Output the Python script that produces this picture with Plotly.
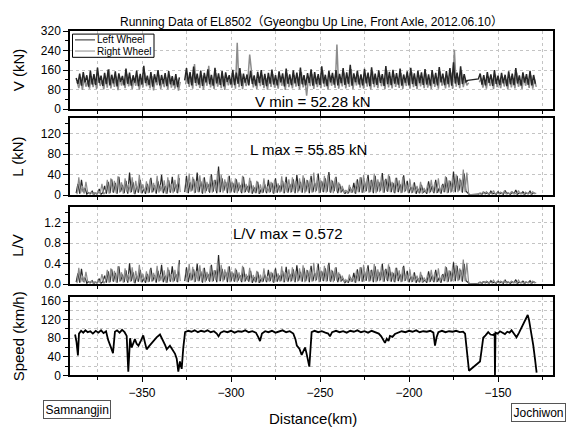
import plotly.graph_objects as go

W, H = 569, 434
FONT = "Liberation Sans, Arial, Noto Sans CJK KR, sans-serif"

# ---------------- data ----------------
# wheel-force samples every 1 km; left wheel at whole km, right wheel half a km later
DIST = list(range(-387, -128))
DIST_RIGHT = [d + 0.5 for d in DIST]
V_UNSAMPLED = (-166, -162)   # no V samples here (line joins across)

V_LEFT = [
    128, 104, 146, 96, 152, 110, 139, 92, 158, 101,
    144, 99, 171, 108, 137, 95, 149, 103, 162, 97,
    141, 106, 155, 93, 147, 112, 136, 98, 166, 104,
    150, 96, 139, 109, 158, 94, 145, 101, 178, 107,
    137, 99, 152, 92, 143, 111, 160, 97, 140, 105,
    148, 94, 156, 102, 135, 98, 144, 90, 130, None,
    None, 118, 168, 104, 152, 97, 175, 108, 146, 100,
    158, 95, 149, 110, 163, 102, 141, 96, 170, 106,
    147, 99, 156, 93, 151, 112, 139, 101, 161, 98,
    150, 104, 168, 95, 146, 109, 142, 97, 157, 103,
    138, 96, 153, 108, 160, 99, 145, 94, 149, 105,
    162, 101, 140, 97, 155, 110, 147, 93, 166, 104,
    143, 98, 159, 106, 150, 95, 171, 102, 139, 97,
    148, 108, 163, 96, 152, 103, 144, 99, 176, 105,
    141, 94, 157, 110, 149, 100, 160, 97, 145, 107,
    168, 99, 151, 104, 182, 96, 147, 111, 158, 101,
    143, 97, 165, 106, 150, 94, 172, 103, 146, 99,
    159, 108, 144, 95, 177, 102, 153, 98, 161, 105,
    148, 100, 166, 96, 142, 109, 155, 97, 170, 103,
    147, 95, 158, 107, 151, 99, 164, 101, 143, 96,
    160, 104, 149, 97, 173, 110, 146, 98, 156, 102,
    168, 96, 192, 105, 150, 99, 176, 103, 144, 112,
    118, None, None, None, None, None, 124, 146, 101, 139,
    97, 152, 108, 143, 95, 160, 103, 137, 99, 149,
    106, 141, 94, 155, 102, 146, 98, 168, 105, 138,
    96, 151, 109, 144, 100, 157, 97, 140, 104,
]
V_RIGHT = [
    112, 86, 131, 79, 126, 92, 118, 84, 135, 90,
    121, 83, 140, 95, 117, 81, 128, 88, 164, 85,
    124, 91, 133, 78, 129, 97, 119, 86, 145, 93,
    127, 82, 122, 96, 138, 80, 125, 89, 150, 94,
    119, 85, 136, 77, 124, 98, 141, 83, 118, 90,
    130, 81, 139, 88, 116, 84, 125, 76, 112, None,
    None, 102, 147, 91, 133, 84, 185, 95, 126, 87,
    140, 80, 131, 96, 178, 89, 123, 83, 148, 92,
    129, 86, 137, 79, 133, 98, 121, 88, 142, 84,
    272, 90, 146, 82, 128, 95, 124, 224, 139, 89,
    120, 83, 135, 94, 141, 86, 127, 80, 131, 91,
    144, 88, 122, 84, 137, 96, 129, 79, 147, 90,
    125, 85, 140, 92, 132, 81, 152, 89, 121, 55,
    130, 94, 145, 83, 134, 90, 126, 86, 157, 92,
    123, 80, 139, 96, 131, 87, 265, 84, 127, 93,
    150, 85, 133, 91, 164, 82, 129, 97, 140, 88,
    125, 84, 147, 92, 132, 81, 155, 90, 128, 86,
    141, 94, 126, 82, 160, 89, 135, 85, 143, 91,
    130, 87, 148, 83, 124, 95, 137, 84, 152, 90,
    129, 82, 140, 93, 133, 86, 146, 88, 125, 83,
    142, 91, 131, 84, 155, 96, 128, 85, 138, 89,
    150, 83, 244, 92, 132, 86, 158, 90, 126, 98,
    108, None, None, None, None, None, 110, 128, 88, 121,
    84, 134, 95, 125, 82, 142, 90, 119, 86, 131,
    93, 123, 81, 137, 89, 128, 85, 150, 92, 120,
    83, 133, 96, 126, 87, 139, 84, 122, 91,
]
L_LEFT = [
    4, 22, 3, 30, 6, 14, 2, 5, 3, 8,
    2, 4, 3, 12, 2, 5, 18, 3, 26, 4,
    31, 5, 24, 3, 36, 7, 20, 4, 28, 3,
    44, 6, 25, 2, 17, 5, 30, 4, 12, 3,
    22, 5, 34, 6, 19, 3, 27, 8, 40, 4,
    18, 3, 29, 5, 36, 7, 21, 4, 33, None,
    None, 6, 38, 4, 25, 9, 32, 5, 44, 6,
    27, 3, 35, 8, 22, 5, 41, 7, 30, 4,
    56, 6, 33, 9, 26, 4, 38, 7, 24, 5,
    31, 8, 20, 4, 36, 6, 18, 5, 28, 3,
    15, 4, 26, 3, 12, 5, 21, 4, 30, 6,
    24, 3, 33, 5, 19, 7, 28, 4, 36, 5,
    22, 6, 31, 4, 40, 8, 26, 5, 34, 7,
    29, 4, 38, 6, 24, 9, 42, 5, 27, 6,
    33, 7, 45, 5, 28, 8, 36, 4, 22, 6,
    12, 3, 8, 4, 15, 5, 24, 3, 31, 6,
    35, 5, 27, 8, 40, 6, 30, 4, 38, 7,
    26, 9, 43, 5, 32, 7, 37, 6, 24, 4,
    34, 6, 21, 5, 39, 8, 28, 4, 16, 5,
    25, 3, 12, 4, 20, 5, 9, 3, 27, 6,
    18, 4, 30, 5, 14, 3, 22, 6, 35, 5,
    28, 7, 46, 6, 38, 9, 30, 5, 42, 8,
    5, 1, 1, 1, 1, 1, 2, 4, 2, 6,
    3, 5, 2, 8, 3, 4, 2, 7, 3, 5,
    2, 9, 3, 4, 2, 6, 3, 10, 2, 5,
    3, 7, 2, 4, 3, 8, 2, 5, 3,
]
L_RIGHT = [
    2, 35, 4, 18, 3, 26, 5, 3, 6, 2,
    5, 2, 8, 3, 22, 2, 6, 30, 3, 33,
    6, 28, 4, 37, 5, 25, 3, 33, 6, 22,
    5, 35, 3, 28, 6, 40, 4, 21, 5, 27,
    4, 31, 5, 24, 7, 38, 5, 20, 6, 29,
    3, 35, 6, 22, 4, 30, 5, 41, 6, None,
    None, 30, 5, 42, 7, 36, 4, 28, 6, 39,
    5, 33, 4, 26, 7, 38, 5, 29, 8, 47,
    6, 40, 5, 31, 8, 36, 4, 27, 6, 33,
    4, 25, 6, 38, 5, 22, 7, 34, 4, 19,
    5, 28, 3, 21, 4, 33, 6, 17, 5, 26,
    4, 30, 6, 23, 5, 37, 4, 26, 6, 31,
    5, 35, 7, 28, 5, 33, 6, 39, 4, 30,
    7, 31, 5, 44, 6, 35, 4, 29, 7, 38,
    5, 40, 6, 30, 4, 34, 7, 25, 5, 18,
    4, 10, 3, 20, 5, 14, 4, 28, 6, 35,
    5, 40, 7, 33, 5, 29, 6, 42, 4, 31,
    6, 37, 5, 30, 8, 41, 6, 26, 5, 34,
    7, 29, 4, 36, 6, 23, 5, 31, 4, 22,
    5, 18, 4, 26, 3, 14, 5, 22, 4, 30,
    6, 25, 4, 33, 5, 20, 6, 37, 4, 29,
    5, 36, 8, 40, 6, 33, 7, 50, 6, 44,
    3, 1, 1, 1, 1, 1, 4, 2, 6, 3,
    7, 2, 4, 3, 9, 2, 5, 3, 6, 2,
    8, 3, 5, 2, 7, 3, 4, 2, 9, 3,
    4, 2, 6, 3, 5, 2, 7, 3, 4,
]
LV_LEFT = [
    .04, .21, .03, .30, .05, .13, .02, .05, .03, .07,
    .02, .04, .03, .11, .02, .05, .17, .03, .25, .04,
    .29, .05, .22, .03, .35, .06, .19, .04, .27, .03,
    .41, .06, .23, .02, .16, .05, .28, .04, .11, .03,
    .20, .05, .32, .06, .18, .03, .26, .07, .38, .04,
    .17, .03, .28, .05, .35, .06, .20, .04, .47, None,
    None, .06, .33, .04, .22, .08, .29, .05, .40, .06,
    .25, .03, .32, .07, .20, .05, .38, .06, .27, .04,
    .57, .06, .30, .08, .24, .04, .35, .06, .22, .05,
    .28, .07, .18, .04, .33, .06, .16, .05, .26, .03,
    .14, .04, .24, .03, .11, .05, .19, .04, .28, .06,
    .22, .03, .31, .05, .17, .06, .26, .04, .34, .05,
    .20, .06, .29, .04, .37, .07, .24, .05, .32, .06,
    .27, .04, .36, .06, .22, .08, .40, .05, .25, .06,
    .31, .06, .42, .05, .26, .07, .33, .04, .20, .06,
    .11, .03, .07, .04, .14, .05, .22, .03, .29, .06,
    .33, .05, .25, .07, .37, .06, .28, .04, .35, .06,
    .24, .08, .40, .05, .30, .06, .34, .05, .22, .04,
    .32, .06, .19, .05, .36, .07, .26, .04, .15, .05,
    .23, .03, .11, .04, .18, .05, .08, .03, .25, .05,
    .17, .04, .28, .05, .13, .03, .20, .06, .33, .05,
    .26, .06, .43, .06, .36, .08, .28, .05, .40, .07,
    .04, .01, .01, .01, .01, .01, .02, .04, .02, .05,
    .03, .05, .02, .07, .03, .04, .02, .06, .03, .05,
    .02, .08, .03, .04, .02, .05, .03, .09, .02, .04,
    .03, .06, .02, .04, .03, .07, .02, .05, .03,
]
LV_RIGHT = [
    .02, .32, .04, .17, .03, .24, .05, .03, .06, .02,
    .05, .02, .07, .03, .20, .02, .06, .28, .03, .31,
    .06, .26, .04, .35, .05, .23, .03, .31, .06, .20,
    .05, .33, .03, .26, .06, .38, .04, .20, .05, .25,
    .04, .29, .05, .22, .07, .36, .05, .19, .06, .27,
    .03, .33, .06, .20, .04, .28, .05, .39, .06, None,
    None, .28, .05, .40, .07, .34, .04, .26, .06, .37,
    .05, .31, .04, .24, .07, .36, .05, .27, .08, .45,
    .06, .38, .05, .29, .08, .34, .04, .25, .06, .31,
    .04, .23, .06, .36, .05, .20, .07, .32, .04, .18,
    .05, .26, .03, .19, .04, .31, .06, .16, .05, .24,
    .04, .28, .06, .21, .05, .35, .04, .24, .06, .29,
    .05, .33, .07, .26, .05, .31, .06, .37, .04, .28,
    .07, .29, .05, .42, .06, .33, .04, .27, .07, .36,
    .05, .38, .06, .28, .04, .32, .07, .23, .05, .17,
    .04, .09, .03, .19, .05, .13, .04, .26, .06, .33,
    .05, .38, .07, .31, .05, .27, .06, .40, .04, .29,
    .06, .35, .05, .28, .08, .39, .06, .24, .05, .32,
    .07, .27, .04, .34, .06, .21, .05, .29, .04, .20,
    .05, .17, .04, .24, .03, .13, .05, .20, .04, .28,
    .06, .23, .04, .31, .05, .18, .06, .35, .04, .27,
    .05, .34, .08, .38, .06, .31, .07, .48, .06, .42,
    .03, .01, .01, .01, .01, .01, .04, .02, .05, .03,
    .06, .02, .04, .03, .08, .02, .05, .03, .06, .02,
    .07, .03, .05, .02, .06, .03, .04, .02, .08, .03,
    .04, .02, .05, .03, .04, .02, .06, .03, .04,
]

SPEED_KM = [
    -387.6, -386.8, -386.0, -385.4, -384.2, -383.0, -381.8, -380.5, -379.0, -377.6,
    -376.0, -374.5, -373.0, -371.6, -370.2, -369.0, -367.6, -366.3, -365.2, -364.0,
    -362.6, -361.2, -359.8, -358.6, -357.7, -356.7, -355.8, -354.8, -354.0, -353.0,
    -352.0, -350.6, -349.3, -348.3, -347.4, -346.0, -344.6, -343.2, -341.8, -339.9,
    -338.8, -338.0, -337.0, -336.1, -335.2, -334.3, -333.3, -332.4, -331.5, -330.5,
    -329.6, -328.7, -327.7, -326.8, -325.8, -324.0, -322.2, -320.4, -318.6, -316.8,
    -315.0, -313.2, -311.4, -309.6, -308.0, -307.0, -305.8, -304.0, -302.0, -300.0,
    -298.0, -296.0, -294.0, -292.0, -290.0, -288.0, -286.0, -284.6, -283.7, -282.6,
    -280.8, -279.0, -277.0, -275.0, -273.0, -271.0, -269.0, -267.0, -265.0, -263.8,
    -263.0, -261.5, -260.3, -259.4, -258.4, -257.6, -257.1, -256.3, -256.0, -254.7,
    -253.0, -251.0, -249.0, -247.0, -245.4, -244.4, -243.2, -241.0, -239.0, -237.0,
    -235.0, -233.0, -231.0, -229.0, -227.0, -225.0, -223.0, -221.0, -219.0, -217.0,
    -215.6, -214.4, -213.5, -212.5, -211.5, -210.7, -209.3, -207.9, -206.0, -204.1,
    -202.0, -200.0, -198.0, -196.0, -194.0, -192.0, -190.0, -188.0, -186.3, -185.4,
    -184.5, -183.5, -181.5, -179.5, -177.5, -175.5, -173.5, -171.5, -169.6, -168.5,
    -166.3, -160.1, -159.2, -158.3, -157.0, -155.5, -154.2, -152.7, -151.9, -151.7,
    -151.4, -150.2, -148.9, -147.5, -146.1, -144.8, -143.5, -142.4, -141.0, -139.6,
    -138.3, -136.7, -135.6, -134.8, -133.9, -133.3, -132.6, -132.0, -131.1, -130.2,
    -129.2, -128.3,
]
SPEED_KMH = [
    88, 72, 43, 90, 96, 92, 97, 93, 95, 90,
    96, 92, 97, 91, 95, 76, 62, 48, 94, 97,
    92, 98, 93, 85, 8, 80, 60, 72, 78, 68,
    64, 75, 86, 70, 56, 63, 70, 76, 82, 88,
    80, 72, 65, 56, 60, 64, 58, 52, 47, 36,
    8, 30, 14, 60, 93, 96, 94, 97, 93, 96,
    94, 97, 93, 95, 90, 84, 92, 95, 93, 96,
    92, 95, 94, 97, 93, 95, 92, 82, 74, 90,
    95, 93, 96, 92, 95, 97, 93, 95, 90, 78,
    64, 57, 44, 52, 60, 48, 40, 22, 19, 93,
    96, 93, 95, 92, 90, 84, 93, 96, 93, 95,
    92, 96, 94, 97, 93, 95, 92, 96, 93, 90,
    84, 74, 70, 79, 74, 85, 83, 89, 92, 95,
    93, 96, 94, 97, 93, 95, 94, 96, 92, 64,
    82, 93, 96, 93, 95, 94, 96, 93, 94, 90,
    10, 30, 55, 81, 86, 93, 88, 87, 90, 0,
    92, 90, 95, 92, 89, 94, 92, 97, 90, 82,
    91, 103, 112, 119, 124, 130, 120, 108, 86, 65,
    35, 6,
]

TITLE = "Running Data of EL8502\uff08Gyeongbu Up Line, Front Axle, 2012.06.10\uff09"
Y_TITLES = ["V (kN)", "L (kN)", "L/V", "Speed (km/h)"]
NOTES = ["V min = 52.28 kN", "L max = 55.85 kN", "L/V max = 0.572"]
X_TITLE = "Distance(km)"
START_STATION, END_STATION = "Samnangjin", "Jochiwon"
LEGEND_NAMES = ["Left Wheel", "Right Wheel"]

# ---------------- style / layout ----------------
LEFT_COLOR = "#262626"
RIGHT_COLOR = "#8c8c8c"
GRID = "#c4c4c4"
V_W = 1.5
WHEEL_W = 1.2

# panel pixel extents (top, bottom) and plot left/right
PANELS = [(25, 105.5), (115, 194.5), (207, 286.5), (300, 380.7)]
PX_L, PX_R = 70, 553
Y_RANGES = [[0, 320], [0, 150], [0, 1.5], [0, 168]]
Y_DTICK = [80, 40, 0.4, 40]
Y_FMT = ["d", "d", ".1f", "d"]
X_RANGE = [-390.45, -119.1]


def fx(p):
    return p / W


def fy(p):
    return 1 - p / H


def drop_unsampled(dist, vals, span):
    xs, ys = [], []
    for d, v in zip(dist, vals):
        if span[0] <= d <= span[1]:
            continue
        xs.append(d)
        ys.append(v)
    return xs, ys


for arr in (V_LEFT, V_RIGHT, L_LEFT, L_RIGHT, LV_LEFT, LV_RIGHT):
    assert len(arr) == len(DIST), len(arr)
assert len(SPEED_KM) == len(SPEED_KMH)

fig = go.Figure()

vx_r, vy_r = drop_unsampled(DIST_RIGHT, V_RIGHT, V_UNSAMPLED)
vx_l, vy_l = drop_unsampled(DIST, V_LEFT, V_UNSAMPLED)
fig.add_trace(go.Scatter(x=vx_r, y=vy_r, mode="lines", name="Right Wheel",
                         line=dict(color=RIGHT_COLOR, width=V_W), xaxis="x", yaxis="y"))
fig.add_trace(go.Scatter(x=vx_l, y=vy_l, mode="lines", name="Left Wheel",
                         line=dict(color=LEFT_COLOR, width=V_W), xaxis="x", yaxis="y"))

fig.add_trace(go.Scatter(x=DIST, y=L_LEFT, mode="lines", name="Left Wheel",
                         line=dict(color=LEFT_COLOR, width=WHEEL_W), xaxis="x2", yaxis="y2"))
fig.add_trace(go.Scatter(x=DIST_RIGHT, y=L_RIGHT, mode="lines", name="Right Wheel",
                         line=dict(color=RIGHT_COLOR, width=WHEEL_W), xaxis="x2", yaxis="y2"))

fig.add_trace(go.Scatter(x=DIST, y=LV_LEFT, mode="lines", name="Left Wheel",
                         line=dict(color=LEFT_COLOR, width=WHEEL_W), xaxis="x3", yaxis="y3"))
fig.add_trace(go.Scatter(x=DIST_RIGHT, y=LV_RIGHT, mode="lines", name="Right Wheel",
                         line=dict(color=RIGHT_COLOR, width=WHEEL_W), xaxis="x3", yaxis="y3"))

fig.add_trace(go.Scatter(x=SPEED_KM, y=SPEED_KMH, mode="lines", name="Speed",
                         line=dict(color="black", width=1.8), xaxis="x4", yaxis="y4"))

tickfont = dict(family=FONT, size=12, color="black")
layout = dict(
    width=W, height=H, margin=dict(l=0, r=0, t=0, b=0),
    paper_bgcolor="white", plot_bgcolor="white", showlegend=False,
    font=dict(family=FONT, color="black"),
)
for i, ((top, bot), yr, dt, fmt) in enumerate(zip(PANELS, Y_RANGES, Y_DTICK, Y_FMT)):
    sfx = "" if i == 0 else str(i + 1)
    layout["xaxis" + sfx] = dict(
        domain=[fx(PX_L), fx(PX_R)], range=X_RANGE, anchor="y" + sfx,
        showline=True, linecolor="black", linewidth=1.5, mirror=True,
        ticks="outside", ticklen=5, tickwidth=1.2, tickcolor="black",
        tick0=0, dtick=50, showticklabels=(i == 3), tickfont=tickfont,
        showgrid=True, gridcolor=GRID, griddash="dot", gridwidth=1, zeroline=False,
        minor=dict(dtick=25, tick0=0, ticks="outside", ticklen=3, tickcolor="black",
                   showgrid=True, gridcolor=GRID, griddash="dot", gridwidth=1),
    )
    layout["yaxis" + sfx] = dict(
        domain=[fy(bot), fy(top)], range=yr, anchor="x" + sfx,
        showline=True, linecolor="black", linewidth=1.5, mirror=True,
        ticks="outside", ticklen=5, tickwidth=1.2, tickcolor="black",
        tick0=0, dtick=dt, tickformat=fmt, tickfont=tickfont,
        showgrid=True, gridcolor=GRID, griddash="dot", gridwidth=1, zeroline=False,
        minor=dict(dtick=dt / 2, tick0=0, ticks="outside", ticklen=3, tickcolor="black",
                   showgrid=(i == 3), gridcolor=GRID, griddash="dot", gridwidth=1),
    )
fig.update_layout(**layout)

ann = []
ann.append(dict(text=TITLE, x=fx(311), y=fy(16), xref="paper", yref="paper",
                showarrow=False, font=dict(size=12, family=FONT), xanchor="center", yanchor="middle"))
for t, (top, bot) in zip(Y_TITLES, PANELS):
    ann.append(dict(text=t, x=fx(18), y=fy((top + bot) / 2), xref="paper", yref="paper",
                    showarrow=False, textangle=-90, font=dict(size=15, family=FONT),
                    xanchor="center", yanchor="middle"))
for t, (cx, cy) in zip(NOTES, [(312, 98), (308, 147.5), (288, 234.5)]):
    ann.append(dict(text=t, x=fx(cx), y=fy(cy), xref="paper", yref="paper", showarrow=False,
                    font=dict(size=15, family=FONT), xanchor="center", yanchor="middle"))
ann.append(dict(text=X_TITLE, x=fx(313), y=fy(425), xref="paper", yref="paper", showarrow=False,
                font=dict(size=15, family=FONT), xanchor="center", yanchor="middle"))
ann.append(dict(text=START_STATION, x=fx(77), y=fy(415.5), xref="paper", yref="paper",
                showarrow=False, font=dict(size=12, family=FONT), bordercolor="#555",
                borderwidth=1, borderpad=1.5, bgcolor="white", xanchor="center", yanchor="middle"))
ann.append(dict(text=END_STATION, x=fx(538.5), y=fy(418.5), xref="paper", yref="paper",
                showarrow=False, font=dict(size=12, family=FONT), bordercolor="#555",
                borderwidth=1, borderpad=1.5, bgcolor="white", xanchor="center", yanchor="middle"))

# compact legend inside the V panel
shapes = [dict(type="rect", xref="paper", yref="paper", x0=fx(72.5), x1=fx(154),
               y0=fy(52), y1=fy(28), line=dict(color="black", width=1), fillcolor="white", layer="above")]
for name, col, py in zip(LEGEND_NAMES, [LEFT_COLOR, RIGHT_COLOR], [34, 45.5]):
    shapes.append(dict(type="line", xref="paper", yref="paper", x0=fx(75), x1=fx(95),
                       y0=fy(py), y1=fy(py), line=dict(color=col, width=1), layer="above"))
    ann.append(dict(text=name, x=fx(95), y=fy(py), xref="paper", yref="paper", showarrow=False,
                    font=dict(size=10, family=FONT), xanchor="left", yanchor="middle"))
fig.update_layout(annotations=ann, shapes=shapes)

fig.write_html("out.html")
